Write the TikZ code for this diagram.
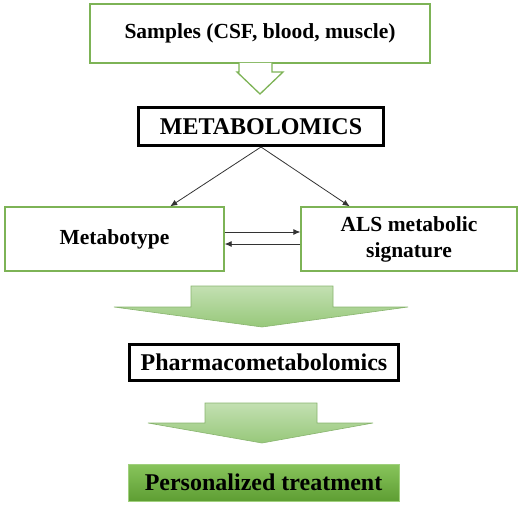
\documentclass[tikz,border=0pt]{standalone}
\usepackage{fontspec}
\setmainfont{Liberation Serif}
\usetikzlibrary{arrows.meta,calc}
\definecolor{gborder}{HTML}{7DB356}
\definecolor{lgtop}{HTML}{C3E0B2}
\definecolor{lgbot}{HTML}{97C87A}
\definecolor{dgtop}{HTML}{88C45C}
\definecolor{dgbot}{HTML}{5E9E33}
\tikzset{
  greenbox/.style={draw=gborder,line width=1.3pt,fill=white,inner sep=0pt,align=center,font=\bfseries\fontsize{21.5}{26}\selectfont},
  thickbox/.style={draw=black,line width=3pt,fill=white,inner sep=0pt,font=\bfseries\fontsize{24}{28}\selectfont},
  thinarrow/.style={-{Latex[length=7pt,width=6pt]},line width=0.8pt,draw=black!80},
  bigarrow/.style={top color=lgtop,bottom color=lgbot,draw=lgbot!90!black,line width=0.6pt},
}
\begin{document}
\begin{tikzpicture}[x=1pt,y=-1pt]
\useasboundingbox (0,0) rectangle (529,505);
% top box
\node[greenbox,minimum width=340pt,minimum height=59pt] (samples) at (260,33.5) {Samples (CSF, blood, muscle)};
% hollow arrow
\draw[draw=gborder,line width=1.3pt,fill=white] (239,63) -- (239,72) -- (237,72) -- (260,94) -- (283,72) -- (272,72) -- (272,63);
% METABOLOMICS
\node[thickbox,minimum width=245pt,minimum height=38pt] (metab) at (261,126.5) {METABOLOMICS};
% second row
\node[greenbox,minimum width=219pt,minimum height=64pt] (mtype) at (114.5,239) {Metabotype};
\node[greenbox,minimum width=216pt,minimum height=64pt] (als) at (409,239) {ALS metabolic\\signature};
\draw[thinarrow] (metab.south) -- ($(mtype.north west)!0.753!(mtype.north east)$);
\draw[thinarrow] (metab.south) -- ($(als.north west)!0.227!(als.north east)$);
\draw[thinarrow] ([yshift=7pt]mtype.east) -- ([yshift=7pt]als.west);
\draw[thinarrow] ([yshift=-5pt]als.west) -- ([yshift=-5pt]mtype.east);
% big arrow 1
\path[bigarrow] (191,286) -- (333,286) -- (333,307) -- (408,307) -- (262,327) -- (114,307) -- (191,307) -- cycle;
% Pharmacometabolomics
\node[thickbox,minimum width=269pt,minimum height=36pt] (pharma) at (264,362.5) {Pharmacometabolomics};
% big arrow 2
\path[bigarrow] (205,403) -- (317,403) -- (317,423) -- (373,423) -- (262,443) -- (148,423) -- (205,423) -- cycle;
% Personalized treatment
\node[top color=dgtop,bottom color=dgbot,draw=dgtop!80!white,line width=0.6pt,inner sep=0pt,minimum width=271pt,minimum height=37pt,font=\bfseries\fontsize{24}{28}\selectfont] (pers) at (263.5,482.5) {Personalized treatment};
\end{tikzpicture}
\end{document}
